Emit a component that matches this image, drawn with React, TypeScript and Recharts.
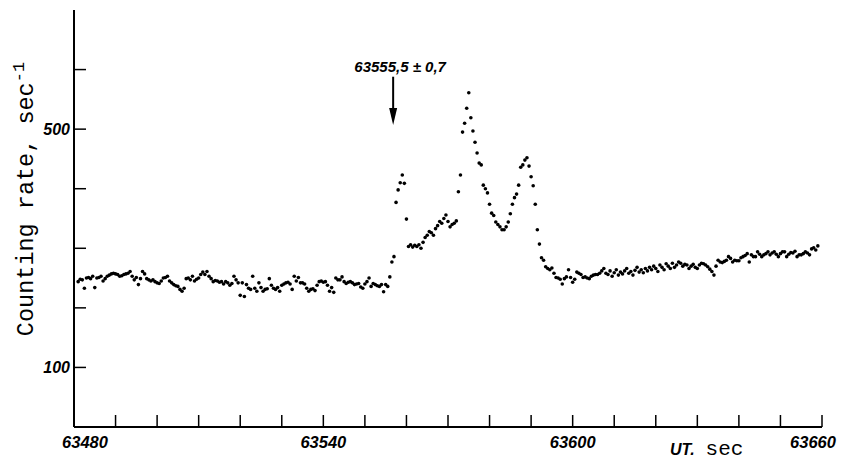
import React from "react";
import { ScatterChart, Scatter, XAxis, YAxis, ReferenceLine } from "recharts";

// counting rate, sec^-1, sampled every 0.5 s from 63481.0
const timeStart = 63481;
const timeStep = 0.5;

// 63481.0 .. 63555.5
const quietBefore = [
  244, 248, 247, 233, 250, 251, 249, 253, 234, 250,
  251, 253, 245, 249, 253, 255, 257, 258, 257, 256,
  253, 254, 256, 257, 258, 261, 253, 247, 251, 239,
  249, 261, 257, 249, 247, 245, 247, 244, 242, 241,
  245, 250, 251, 253, 245, 242, 239, 237, 236, 231,
  228, 233, 249, 250, 247, 253, 245, 248, 250, 256,
  260, 256, 261, 253, 249, 244, 246, 245, 243, 244,
  240, 244, 242, 238, 241, 253, 247, 242, 221, 242,
  219, 239, 233, 231, 253, 233, 228, 242, 234, 228,
  231, 232, 249, 238, 233, 231, 234, 228, 238, 240,
  242, 243, 240, 231, 253, 245, 251, 242, 242, 240,
  233, 228, 231, 232, 229, 238, 244, 245, 243, 244,
  238, 228, 234, 226, 250, 247, 247, 252, 244, 241,
  243, 244, 242, 239, 240, 241, 235, 233, 240, 244,
  250, 236, 241, 239, 237, 236, 239, 227, 239, 236,
];

// 63556.0 .. 63597.5
const burst = [
  252, 277, 286, 377, 398, 410, 423, 409, 349, 303,
  306, 302, 305, 303, 306, 300, 310, 318, 322, 328,
  326, 322, 333, 338, 345, 342, 350, 356, 345, 336,
  340, 342, 346, 395, 423, 495, 510, 535, 561, 519,
  497, 478, 460, 443, 440, 406, 400, 393, 374, 359,
  355, 344, 340, 336, 331, 331, 336, 344, 358, 374,
  385, 391, 406, 436, 440, 448, 452, 438, 420, 405,
  374, 331, 307, 284, 280, 269, 266, 264, 267, 258,
  251, 250, 248, 240,
];

// 63598.0 .. 63659.0
const quietAfter = [
  249, 252, 264, 251, 243, 248, 260, 258, 256, 251,
  252, 250, 249, 253, 255, 256, 256, 258, 262, 266,
  258, 256, 262, 253, 259, 264, 255, 260, 257, 262,
  266, 258, 261, 255, 263, 268, 260, 264, 259, 266,
  262, 268, 264, 270, 266, 261, 272, 268, 264, 274,
  270, 266, 275, 268, 272, 277, 275, 270, 273, 272,
  266, 270, 273, 268, 266, 272, 275, 274, 272, 269,
  265, 261, 255, 270, 280, 277, 276, 278, 280, 286,
  283, 277, 280, 279, 279, 284, 286, 288, 291, 277,
  289, 286, 286, 294, 290, 286, 289, 291, 294, 289,
  292, 294, 290, 286, 291, 294, 294, 286, 290, 293,
  292, 295, 286, 289, 289, 291, 294, 292, 289, 299,
  301, 297, 304,
];

const timeTicks = [
  63480, 63490, 63500, 63510, 63520, 63530, 63540, 63550, 63560, 63570,
  63580, 63590, 63600, 63610, 63620, 63630, 63640, 63650, 63660,
];
const timeLabels = [63480, 63540, 63600, 63660];
const rateTicks = [100, 200, 300, 400, 500, 600];
const rateLabels = [100, 500];

const onsetTime = 63556.8;
const onsetText = "63555,5 ± 0,7";

const points = [...quietBefore, ...burst, ...quietAfter].map((rate, i) => ({
  t: timeStart + i * timeStep,
  rate,
}));

const tickFont = {
  fontFamily: "'Liberation Sans', Arial, sans-serif",
  fontStyle: "italic",
  fontWeight: "bold",
} as const;

function TimeTick(props: any) {
  const { x, y, payload } = props;
  const v = payload.value;
  const shift = v === 63480 ? 11 : v === 63660 ? -9 : 0;
  return (
    <g>
      <line x1={x} y1={y} x2={x} y2={y - 12} stroke="#000" strokeWidth={1.5} />
      {timeLabels.includes(v) && (
        <text x={x + shift} y={y + 21} textAnchor="middle" fontSize={16.5} fill="#000" {...tickFont}>
          {v}
        </text>
      )}
    </g>
  );
}

function RateTick(props: any) {
  const { x, y, payload } = props;
  const v = payload.value;
  return (
    <g>
      <line x1={x} y1={y} x2={x + 12} y2={y} stroke="#000" strokeWidth={1.5} />
      {rateLabels.includes(v) && (
        <text x={x - 4} y={y + 6} textAnchor="end" fontSize={16} fill="#000" {...tickFont}>
          {v}
        </text>
      )}
    </g>
  );
}

function Dot(props: any) {
  return <circle cx={props.cx} cy={props.cy} r={1.8} fill="#000" />;
}

function OnsetArrow(props: any) {
  const { x1, y1, y2 } = props;
  return (
    <g>
      <line x1={x1} y1={y1} x2={x1} y2={y2 - 10} stroke="#000" strokeWidth={2} />
      <polygon points={`${x1 - 4},${y2 - 17} ${x1 + 4},${y2 - 17} ${x1},${y2}`} fill="#000" />
      <text x={x1 + 7} y={y1 - 5} textAnchor="middle" fontSize={15} fill="#000" {...tickFont}>
        {onsetText}
      </text>
    </g>
  );
}

export default function App() {
  return (
    <div style={{ width: 848, height: 460, background: "#fff" }}>
      <style>{"body{margin:0}"}</style>
      <ScatterChart width={848} height={460} margin={{ top: 10, right: 26, bottom: 0, left: 0 }}>
        <XAxis
          type="number"
          dataKey="t"
          domain={[63480, 63660]}
          ticks={timeTicks}
          interval={0}
          height={33}
          tickSize={0}
          tickMargin={0}
          tickLine={false}
          tick={<TimeTick />}
          axisLine={{ stroke: "#000", strokeWidth: 2 }}
          label={() => (
            <text x={670} y={455} fill="#000">
              <tspan fontSize={16} {...tickFont}>UT.</tspan>
              <tspan dx={11} fontSize={21} fontFamily="'Liberation Mono', monospace">sec</tspan>
            </text>
          )}
        />
        <YAxis
          type="number"
          dataKey="rate"
          domain={[0, 700]}
          ticks={rateTicks}
          interval={0}
          width={74}
          tickSize={0}
          tickMargin={0}
          tickLine={false}
          tick={<RateTick />}
          axisLine={{ stroke: "#000", strokeWidth: 2 }}
          label={() => (
            <text
              x={33}
              y={199}
              transform="rotate(-90, 33, 199)"
              textAnchor="middle"
              fontSize={23.5}
              fontFamily="'Liberation Mono', monospace"
              fill="#000"
            >
              Counting rate, sec
              <tspan dy={-9} fontSize={17}>-1</tspan>
            </text>
          )}
        />
        <Scatter data={points} shape={<Dot />} isAnimationActive={false} />
        <ReferenceLine
          segment={[
            { x: onsetTime, y: 588 },
            { x: onsetTime, y: 507 },
          ]}
          ifOverflow="visible"
          shape={<OnsetArrow />}
        />
      </ScatterChart>
    </div>
  );
}
